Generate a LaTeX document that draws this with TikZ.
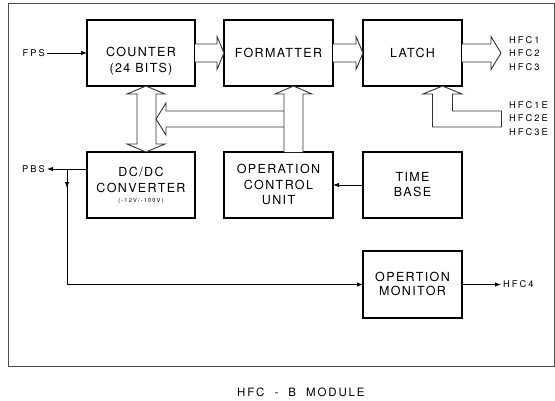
\documentclass[tikz,border=0pt]{standalone}
\usepackage{fontspec}
\setmainfont{TeX Gyre Heros}
\newfontfamily\boxfont[LetterSpace=11]{TeX Gyre Heros}
\newfontfamily\sigfont[LetterSpace=22]{TeX Gyre Heros}
\newfontfamily\capfont[LetterSpace=16]{TeX Gyre Heros}
\newfontfamily\smallfont[LetterSpace=20]{TeX Gyre Heros}
\usetikzlibrary{arrows.meta,calc}
\begin{document}
\begin{tikzpicture}[x=1pt,y=-1pt,
  blk/.style={draw,line width=2pt,minimum height=66pt,inner sep=0pt,outer sep=0pt},
  btxt/.style={font=\boxfont\fontsize{12.5}{15.5}\selectfont,inner sep=0pt,align=center},
  sig/.style={font=\sigfont\fontsize{9.3}{13.5}\selectfont,inner sep=0pt,align=left},
  fat/.style={draw=black!80,line width=0.9pt,fill=white,line join=miter},
  conn/.style={draw,line width=0.9pt},
  arr/.style={-{Latex[length=6pt,width=4.5pt]}}]
\useasboundingbox (0,0) rectangle (555,400);
\draw[black!70,line width=1pt] (8,3) rectangle (554,366);

% blocks
\node[blk,minimum width=108pt] (cnt) at (141,53) {};
\node[blk,minimum width=109pt] (fmt) at (278.5,53) {};
\node[blk,minimum width=99pt] (lat) at (412.5,53) {};
\node[blk,minimum width=108pt] (dcdc) at (141,185) {};
\node[blk,minimum width=109pt] (ocu) at (278.5,185) {};
\node[blk,minimum width=99pt] (tb) at (412.5,185) {};
\node[blk,minimum width=99pt,minimum height=67pt] (mon) at (412.5,284.5) {};

% block texts
\node[btxt,font=\boxfont\fontsize{12.5}{16}\selectfont] (cntT) at (141,61) {COUNTER\\(24 BITS)};
\node[btxt] (fmtT) at (278.5,53) {FORMATTER};
\node[btxt] (latT) at (412.5,53) {LATCH};
\node[btxt] (dcdcT) at (141,180) {DC/DC\\CONVERTER};
\node[font=\smallfont\fontsize{5.7}{6}\selectfont,inner sep=0pt] (dcdcS) at (141,201) {(-12V/-100V)};
\node[btxt] (ocuT) at (278.5,184.5) {OPERATION\\CONTROL\\UNIT};
\node[btxt] (tbT) at (412.5,184.5) {TIME\\BASE};
\node[btxt,font=\boxfont\fontsize{12.5}{14.5}\selectfont] (monT) at (412.5,284) {OPERTION\\MONITOR};

% fat arrow counter -> formatter
\draw[fat] ($(cnt.east)+(0,-9)$) -- ($(fmt.west)+(-7,-9)$) -- ($(fmt.west)+(-7,-16.5)$) -- (fmt.west)
  -- ($(fmt.west)+(-7,16.5)$) -- ($(fmt.west)+(-7,9)$) -- ($(cnt.east)+(0,9)$);
% fat arrow formatter -> latch
\draw[fat] ($(fmt.east)+(0,-9)$) -- ($(lat.west)+(-7,-9)$) -- ($(lat.west)+(-7,-16.5)$) -- (lat.west)
  -- ($(lat.west)+(-7,16.5)$) -- ($(lat.west)+(-7,9)$) -- ($(fmt.east)+(0,9)$);
% fat arrow latch -> outputs
\coordinate (hfcout) at ($(lat.east)+(39,0)$);
\draw[fat] ($(lat.east)+(0,-9)$) -- ($(hfcout)+(-10,-9)$) -- ($(hfcout)+(-10,-16.5)$) -- (hfcout)
  -- ($(hfcout)+(-10,16.5)$) -- ($(hfcout)+(-10,9)$) -- ($(lat.east)+(0,9)$);

% double fat arrow counter <-> dc/dc
\coordinate (vt) at ($(cnt.south)+(5,0)$);
\coordinate (vb) at ($(dcdc.north)+(5,0)$);
\draw[fat] (vt) -- ($(vt)+(19,8)$) -- ($(vt)+(10,8)$) -- ($(vb)+(10,-8)$) -- ($(vb)+(19,-8)$) -- (vb)
  -- ($(vb)+(-19,-8)$) -- ($(vb)+(-9,-8)$) -- ($(vt)+(-9,8)$) -- ($(vt)+(-19,8)$) -- cycle;

% fat arrow from operation control bus to counter bus
\coordinate (ut) at ($(fmt.south)+(15,0)$);
\coordinate (ub) at ($(ocu.north)+(15,0)$);
\coordinate (ht) at ($(vt)+(10,33)$);
\draw[fat] ($(ub)+(-9.5,-41)$) -- ($(ht)+(10,-8)$) -- ($(ht)+(10,-16)$) -- (ht)
  -- ($(ht)+(10,16)$) -- ($(ht)+(10,8)$) -- ($(ub)+(-9.5,-25)$);
% fat arrow operation control -> formatter
\draw[fat] ($(ub)+(-9.5,0)$) -- ($(ut)+(-9.5,8)$) -- ($(ut)+(-18.5,8)$) -- (ut)
  -- ($(ut)+(18.5,8)$) -- ($(ut)+(9.5,8)$) -- ($(ub)+(9.5,0)$);

% L-shaped fat arrow into latch
\coordinate (lt) at ($(lat.south)+(30,0)$);
\draw[fat] (lt) -- ($(lt)+(19.5,8)$) -- ($(lt)+(10,8)$) -- ($(lt)+(10,25)$) -- ($(lt)+(59,25)$)
  -- ($(lt)+(59,41)$) -- ($(lt)+(-10,41)$) -- ($(lt)+(-10,8)$) -- ($(lt)+(-19.5,8)$) -- cycle;

% signal labels
\node[sig,anchor=west] (hfcA) at (509,53.5) {HFC1\\HFC2\\HFC3};
\node[sig,anchor=west] (hfcE) at (509,118.5) {HFC1E\\HFC2E\\HFC3E};
\node[sig,anchor=east] (fps) at (45,53) {FPS};
\node[sig,anchor=east] (pbs) at (45,169) {PBS};
\node[sig,anchor=west] (hfc4) at (503,284.5) {HFC4};

% thin connectors
\draw[conn,arr] ([xshift=2pt]fps.east) -- (fps.east -| cnt.west);
\coordinate (pbsj) at ($(dcdc.west)+(-20,-16)$);
\draw[conn,arr] (pbs.east -| dcdc.west) -- ([xshift=2pt]pbs.east);
\draw[conn,arr] (pbsj) -- ++(0,19);
\draw[conn,arr] (pbsj) -- (pbsj |- mon.west) -- (mon.west);
\draw[conn,arr] (tb.west) -- (ocu.east);
\draw[conn,arr] (mon.east) -- ([xshift=-2pt]hfc4.west);

% caption
\node[font=\capfont\fontsize{11.5}{13}\selectfont,inner sep=0pt,anchor=west] (cap) at (237,392) {HFC\ \ -\ \ B\ \ MODULE};
\end{tikzpicture}
\end{document}
